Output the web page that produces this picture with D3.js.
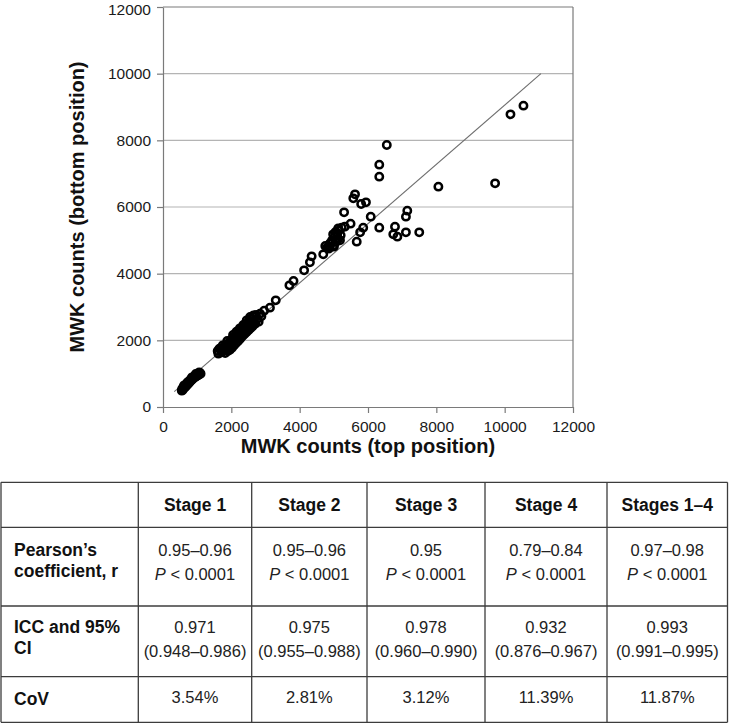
<!DOCTYPE html>
<html>
<head>
<meta charset="utf-8">
<script src="https://cdn.jsdelivr.net/npm/d3@7"></script>
<style>
  html, body { margin: 0; padding: 0; background: #fff; }
  svg { display: block; font-family: "Liberation Sans", Arial, Helvetica, sans-serif; }
</style>
</head>
<body>
<svg id="chart" width="729" height="724"></svg>
<script>
// ---------- DATA ----------
const axisTicks = [0, 2000, 4000, 6000, 8000, 10000, 12000];
const gridValues = [2000, 4000, 6000, 8000, 10000];

// MWK counts, top position (x) and bottom position (y)
const topCounts = [
  // low cluster
  550,560,575,590,600,615,630,640,655,670,680,700,710,725,740,750,765,780,790,805,
  820,835,850,860,875,890,900,915,930,945,960,975,990,1000,1020,1035,1050,1065,1080,1100,
  1060,960,850,720,620,
  // middle cluster
  1600,1620,1650,1700,1720,1760,1800,1820,1850,1870,1900,1920,1940,1960,1980,2000,2020,2040,2060,2080,
  2100,2120,2140,2160,2180,2200,2220,2240,2260,2280,2300,2320,2340,2360,2380,2400,2420,2440,2460,2480,
  2500,2520,2540,2560,2580,2600,2620,2640,2660,2700,2720,2760,2800,2840,2880,2050,2150,2250,2350,2450,
  1750,1880,2550,2650,2240,2100,2380,2500,2180,1980,
  // sparse
  2960,3130,3300,3700,3820,4130,4300,4350,4690,4810,
  // cluster near 5000
  4750,4850,4900,4950,5000,5020,5060,5100,5130,5150,5200,5230,4980,4880,5050,5180,5000,5080,5130,4890,
  // high values
  5300,5320,5490,5570,5620,5670,5770,5800,5860,5940,6080,6330,6330,6330,6550,6740,6790,6860,7110,7110,
  7150,7500,8060,9720,10170,10550
];
const bottomCounts = [
  490,540,510,560,600,570,620,590,650,620,680,660,710,690,740,710,770,750,800,780,
  830,810,860,830,880,860,910,890,930,900,950,930,970,940,990,960,1000,980,1020,1000,
  1040,990,890,740,650,
  1680,1600,1750,1700,1640,1780,1700,1620,1850,1760,1680,1920,1800,1720,1990,1880,1780,2060,1950,1850,
  2120,2020,1920,2190,2080,1980,2260,2150,2050,2320,2220,2120,2380,2280,2180,2450,2340,2240,2510,2400,
  2300,2580,2460,2360,2640,2520,2420,2700,2580,2500,2760,2640,2560,2800,2720,2160,2260,2360,2460,2600,
  1850,1980,2700,2750,2300,2050,2380,2520,2180,1900,
  2890,2980,3200,3650,3780,4100,4340,4520,4580,4790,
  4830,4750,4900,5000,4850,5100,4950,5200,5050,5300,5150,5380,5180,4820,5250,5000,4810,5010,5360,4910,
  5840,5410,5500,6260,6380,4960,5240,6090,5380,6140,5710,5380,6910,7270,7860,5180,5410,5110,5240,5710,
  5890,5240,6610,6710,8780,9040
];
// fitted line end points [top, bottom]
const fitStart = [330, 460];
const fitEnd = [11060, 10000];

const xTitle = "MWK counts (top position)";
const yTitle = "MWK counts (bottom position)";

// table
const stageHeaders = ["Stage 1", "Stage 2", "Stage 3", "Stage 4", "Stages 1\u20134"];
const rowLabels = [["Pearson\u2019s", "coefficient, r"], ["ICC and 95%", "CI"], ["CoV"]];
const pearsonR = ["0.95\u20130.96", "0.95\u20130.96", "0.95", "0.79\u20130.84", "0.97\u20130.98"];
const pearsonP = ["< 0.0001", "< 0.0001", "< 0.0001", "< 0.0001", "< 0.0001"];
const iccValue = ["0.971", "0.975", "0.978", "0.932", "0.993"];
const iccCI = ["(0.948\u20130.986)", "(0.955\u20130.988)", "(0.960\u20130.990)", "(0.876\u20130.967)", "(0.991\u20130.995)"];
const covValue = ["3.54%", "2.81%", "3.12%", "11.39%", "11.87%"];

// ---------- CHART ----------
const svg = d3.select("#chart");
const x = d3.scaleLinear().domain([0, 12000]).range([163, 573]);
const y = d3.scaleLinear().domain([0, 12000]).range([407, 7]);

// gridlines
svg.append("g").selectAll("line").data(gridValues).join("line")
  .attr("x1", x(0)).attr("x2", x(12000))
  .attr("y1", d => y(d)).attr("y2", d => y(d))
  .attr("stroke", "#b4b4b4").attr("stroke-width", 1.2);

// top and right frame
svg.append("line").attr("x1", x(0)).attr("x2", x(12000)).attr("y1", y(12000)).attr("y2", y(12000))
  .attr("stroke", "#7a7a7a").attr("stroke-width", 1.2);
svg.append("line").attr("x1", x(12000)).attr("x2", x(12000)).attr("y1", y(12000)).attr("y2", y(0))
  .attr("stroke", "#7a7a7a").attr("stroke-width", 1.2);

// axes
const xAxis = svg.append("g").attr("transform", `translate(0,${y(0)})`)
  .call(d3.axisBottom(x).tickValues(axisTicks).tickFormat(d3.format("d")).tickSizeInner(6).tickSizeOuter(0).tickPadding(8));
const yAxis = svg.append("g").attr("transform", `translate(${x(0)},0)`)
  .call(d3.axisLeft(y).tickValues(axisTicks).tickFormat(d3.format("d")).tickSizeInner(6).tickSizeOuter(0).tickPadding(6));
[xAxis, yAxis].forEach(g => {
  g.select(".domain").attr("stroke", "#7a7a7a").attr("stroke-width", 1.2);
  g.selectAll(".tick line").attr("stroke", "#7a7a7a").attr("stroke-width", 1.2);
  g.selectAll(".tick text").attr("fill", "#1a1a1a").style("font-size", "15.5px")
    .style("font-family", '"Liberation Sans", Arial, sans-serif');
});
// keep the topmost label fully inside the page
yAxis.selectAll(".tick text").filter(d => d === 12000).attr("dy", "0.46em");

// fitted line
svg.append("line")
  .attr("x1", x(fitStart[0])).attr("y1", y(fitStart[1]))
  .attr("x2", x(fitEnd[0])).attr("y2", y(fitEnd[1]))
  .attr("stroke", "#6e6e6e").attr("stroke-width", 1.1);

// points
const pts = topCounts.map((t, i) => [t, bottomCounts[i]]);
svg.append("g").selectAll("circle").data(pts).join("circle")
  .attr("cx", d => x(d[0])).attr("cy", d => y(d[1])).attr("r", 3.7)
  .attr("fill", "none").attr("stroke", "#000").attr("stroke-width", 2.5);

// titles
svg.append("text").attr("x", (x(0) + x(12000)) / 2).attr("y", 453)
  .attr("text-anchor", "middle").style("font-size", "20px").style("font-weight", "bold")
  .attr("fill", "#111").text(xTitle);
svg.append("text").attr("transform", `translate(84,${(y(0) + y(12000)) / 2}) rotate(-90)`)
  .attr("text-anchor", "middle").style("font-size", "20px").style("font-weight", "bold")
  .attr("fill", "#111").text(yTitle);

// ---------- TABLE ----------
const colEdges = [1, 138.3, 251.7, 367, 485, 607, 727.5];
const rowEdges = [482.3, 527.3, 606, 676.7, 722.3];
const tbl = svg.append("g");
const border = "#3c3c3c";
tbl.selectAll("line.h").data(rowEdges).join("line").attr("class", "h")
  .attr("x1", colEdges[0]).attr("x2", colEdges[colEdges.length - 1])
  .attr("y1", d => d).attr("y2", d => d).attr("stroke", border).attr("stroke-width", 1.3);
tbl.selectAll("line.v").data(colEdges).join("line").attr("class", "v")
  .attr("y1", rowEdges[0]).attr("y2", rowEdges[rowEdges.length - 1])
  .attr("x1", d => d).attr("x2", d => d).attr("stroke", border).attr("stroke-width", 1.3);

const colCenter = i => (colEdges[i + 1] + colEdges[i + 2]) / 2;

// headers
tbl.selectAll("text.hdr").data(stageHeaders).join("text").attr("class", "hdr")
  .attr("x", (d, i) => colCenter(i)).attr("y", 510.7).attr("text-anchor", "middle")
  .style("font-size", "17.5px").style("font-weight", "bold").attr("fill", "#111").text(d => d);

// row labels
const labelBaselines = [[556, 577], [633.3, 654], [705]];
rowLabels.forEach((lines, r) => {
  lines.forEach((t, k) => {
    tbl.append("text").attr("x", 14).attr("y", labelBaselines[r][k])
      .style("font-size", "17.5px").style("font-weight", "bold").attr("fill", "#111").text(t);
  });
});

function cellText(arr, yPos) {
  tbl.append("g").selectAll("text").data(arr).join("text")
    .attr("x", (d, i) => colCenter(i)).attr("y", yPos).attr("text-anchor", "middle")
    .style("font-size", "16.5px").attr("fill", "#222").text(d => d);
}
cellText(pearsonR, 556);
// P value line with italic P
const pg = tbl.append("g").selectAll("text").data(pearsonP).join("text")
  .attr("x", (d, i) => colCenter(i)).attr("y", 580).attr("text-anchor", "middle")
  .style("font-size", "16.5px").attr("fill", "#222");
pg.append("tspan").style("font-style", "italic").text("P");
pg.append("tspan").text(d => " " + d);
cellText(iccValue, 633.3);
cellText(iccCI, 657);
cellText(covValue, 703);
</script>
</body>
</html>
